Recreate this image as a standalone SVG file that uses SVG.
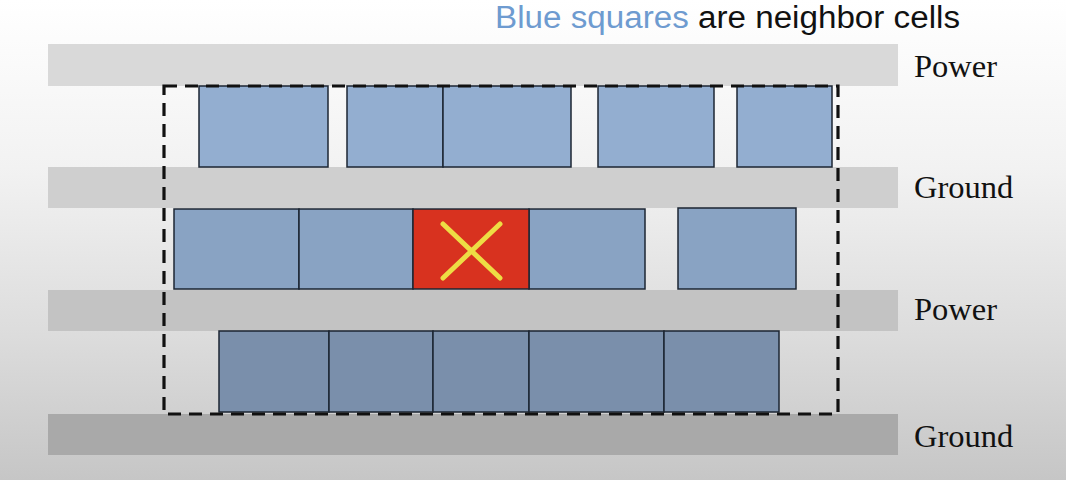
<svg xmlns="http://www.w3.org/2000/svg" width="1066" height="480" viewBox="0 0 1066 480">
<defs>
<linearGradient id="bg" x1="0" y1="0" x2="0" y2="1">
<stop offset="0" stop-color="#ffffff"/>
<stop offset="0.35" stop-color="#f2f2f2"/>
<stop offset="0.7" stop-color="#dcdcdc"/>
<stop offset="1" stop-color="#c6c6c6"/>
</linearGradient>
</defs>
<style>
.band{stroke:none}
.r1{fill:#93aed0}
.r2{fill:#89a3c3}
.r3{fill:#7a8fab}
.cell{stroke:#1c2633;stroke-width:1.5}
.lbl{font-family:"Liberation Serif","Times New Roman",serif;font-size:32.5px;fill:#111}
.dash{fill:none;stroke:#111;stroke-width:3.2;stroke-dasharray:13 8}
</style>
<rect x="0" y="0" width="1066" height="480" fill="url(#bg)"/>
<g id="rails">
<rect class="band" x="48" y="44" width="850" height="42" fill="#d9d9d9"/>
<rect class="band" x="48" y="167" width="850" height="41" fill="#cfcfcf"/>
<rect class="band" x="48" y="290" width="850" height="41" fill="#c3c3c3"/>
<rect class="band" x="48" y="414" width="850" height="41" fill="#a9a9a9"/>
</g>
<g id="labels">
<text class="lbl" x="914" y="77">Power</text>
<text class="lbl" x="914" y="198">Ground</text>
<text class="lbl" x="914" y="320">Power</text>
<text class="lbl" x="914" y="447">Ground</text>
</g>
<g id="row1">
<rect class="cell r1" x="199" y="86" width="129" height="81"/>
<rect class="cell r1" x="347" y="86" width="96" height="81"/>
<rect class="cell r1" x="443" y="86" width="128" height="81"/>
<rect class="cell r1" x="598" y="86" width="116" height="81"/>
<rect class="cell r1" x="737" y="86" width="95" height="81"/>
</g>
<g id="row2">
<rect class="cell r2" x="174" y="209" width="125" height="80"/>
<rect class="cell r2" x="299" y="209" width="114" height="80"/>
<rect class="cell r2" x="529" y="209" width="116" height="80"/>
<rect class="cell r2" x="678" y="208" width="118" height="81"/>
</g>
<g id="target">
<rect class="cell" x="413" y="209" width="116" height="80" fill="#d8321f"/>
<path d="M443 224 L500 278 M500 224 L443 278" stroke="#eedd44" stroke-width="5" stroke-linecap="round" fill="none"/>
</g>
<g id="row3">
<rect class="cell r3" x="219" y="331" width="110" height="81"/>
<rect class="cell r3" x="329" y="331" width="104" height="81"/>
<rect class="cell r3" x="433" y="331" width="96" height="81"/>
<rect class="cell r3" x="529" y="331" width="135" height="81"/>
<rect class="cell r3" x="664" y="331" width="115" height="81"/>
</g>
<g id="window">
<rect class="dash" x="164" y="86" width="674" height="328"/>
</g>
<g id="title">
<text x="495" y="28" font-family="Liberation Sans, Arial, sans-serif" font-size="31" textLength="465" lengthAdjust="spacingAndGlyphs"><tspan fill="#6e9bd0">Blue squares</tspan><tspan fill="#111"> are neighbor cells</tspan></text>
</g>
</svg>
